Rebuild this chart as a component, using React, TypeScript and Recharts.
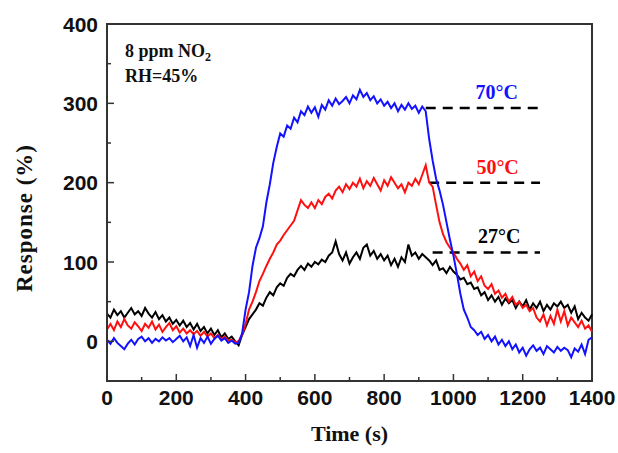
import { LineChart, Line, XAxis, YAxis, ReferenceLine, ReferenceArea } from "recharts";

// sampled every 10 s, 0..1400 s
const STEP = 10;

// response (%) at 70 °C
const blue70 = [
  2, -3, 4, -2, -6, -10, -3, 2, -4, 3,
  6, 0, 4, -2, 3, 0, 5, 1, 4, -1,
  3, 7, 0, 5, -6, 8, -8, 4, -2, 6,
  -3, 3, 7, 1, 4, -2, 1, -3, -2, 10,
  40, 62, 95, 118, 130, 145, 175, 198, 225, 245,
  262, 258, 272, 268, 282, 276, 290, 285, 296, 288,
  295, 283, 298, 292, 304, 297, 306, 299, 303, 308,
  300, 310, 305, 317, 308, 313, 304, 309, 300, 305,
  297, 302, 294, 300, 290, 298, 292, 300, 293, 297,
  288, 296, 290, 255, 228, 205, 190, 172, 150, 128,
  108, 85, 60, 40, 30, 18, 14, 8, 12, 3,
  8, 0, 6, -4, 2, -6, 0, -10, -4, -14,
  -8, -18, -10, -5, -12, -8, -16, -6, -10, -14,
  -7, -12, -8, -11, -20, -9, -13, -4, -16, 2,
  5,
];

// response (%) at 50 °C
const red50 = [
  15, 22, 14, 25, 18, 28, 20, 16, 24, 19,
  13, 22, 17, 25, 15, 21, 12, 18, 23, 14,
  19, 11, 16, 10, 14, 9, 13, 7, 12, 6,
  10, 4, 8, 3, 6, 1, 2, -1, 0, 8,
  22, 40, 50, 62, 76, 85, 95, 104, 112, 122,
  127, 134, 140, 146, 152, 165, 178, 172, 168, 175,
  168, 178, 173, 182, 186, 180, 190, 195, 188, 198,
  192, 200, 195, 205, 193, 202, 196, 206, 198, 190,
  203, 196, 207, 200, 193, 198, 188, 200, 196, 205,
  198, 210, 222, 200, 195, 172, 150, 135, 125, 118,
  112, 104, 98, 90, 96, 82, 88, 76, 82, 70,
  66, 72, 60, 64, 55, 60, 50, 56, 46, 50,
  42, 46, 38, 42, 30, 25, 34, 20, 32, 22,
  40, 25, 38, 20, 30, 24, 18, 26, 16, 20,
  12,
];

// response (%) at 27 °C
const black27 = [
  35, 30, 40, 33, 38, 30, 36, 42, 34, 38,
  32, 42, 35, 30, 37, 28, 33, 25, 30, 22,
  27, 20, 26, 18, 23, 15, 22, 13, 18, 10,
  16, 8, 14, 5, 10, 3, 6, 0, -5, 8,
  18, 28, 34, 40, 48, 45, 55, 62, 58, 68,
  73, 70, 80, 85, 82, 90, 95, 90, 98, 94,
  100, 97, 103, 100, 108, 112, 126, 110, 102, 112,
  98, 106, 112, 104, 118, 122, 108, 114, 104, 110,
  102, 108, 96, 104, 94, 106, 100, 122, 108, 112,
  104, 110, 106, 102, 96, 102, 90, 92, 86, 94,
  88, 84, 78, 80, 72, 74, 66, 68, 58, 62,
  52, 58, 50, 56, 46, 54, 48, 52, 42, 50,
  44, 52, 40, 48, 42, 50, 38, 46, 40, 48,
  44, 50, 42, 46, 36, 44, 28, 36, 30, 26,
  34,
];

const xTicks = [0, 100, 200, 300, 400, 500, 600, 700, 800, 900, 1000, 1100, 1200, 1300, 1400];
const yTicks = [0, 50, 100, 150, 200, 250, 300, 350, 400];

// steady-state levels marked with dashed lines
const levelLabels = ["70°C", "50°C", "27°C"];
const levelValues = [294, 200, 112];
const levelStarts = [920, 930, 940];
const levelEnds = [1255, 1250, 1250];
const colors = ["#1212ff", "#ff1010", "#000000"];

const data = blue70.map((v, i) => ({
  time: i * STEP,
  blue: v,
  red: red50[i],
  black: black27[i],
}));

const AXIS = "#333";
const tickFont = { fontFamily: "'Liberation Sans', Arial, sans-serif", fontWeight: 700, fontSize: 21 };
const serif = "'Liberation Serif', 'Times New Roman', serif";

function XTick({ x, y, payload }: any) {
  const major = payload.value % 200 === 0;
  return (
    <g>
      <line x1={x} x2={x} y1={y} y2={y - (major ? 7 : 4)} stroke={AXIS} strokeWidth={1.5} />
      {major && (
        <text x={x} y={y + 24} textAnchor="middle" fill="#111" style={tickFont}>
          {payload.value}
        </text>
      )}
    </g>
  );
}

function YTick({ x, y, payload }: any) {
  const major = payload.value % 100 === 0;
  return (
    <g>
      <line x1={x} x2={x + (major ? 7 : 4)} y1={y} y2={y} stroke={AXIS} strokeWidth={1.5} />
      {major && (
        <text x={x - 9} y={y} dy="0.36em" textAnchor="end" fill="#111" style={tickFont}>
          {payload.value}
        </text>
      )}
    </g>
  );
}

export default function App() {
  return (
    <div style={{ position: "relative", width: 618, height: 453, background: "#fff" }}>
      <style>{`body{margin:0}`}</style>
      <LineChart
        width={618}
        height={453}
        data={data}
        margin={{ top: 24, right: 26, bottom: 0, left: 0 }}
      >
        <ReferenceArea
          x1={0}
          x2={1400}
          y1={-50}
          y2={400}
          fill="none"
          stroke={AXIS}
          strokeWidth={2}
        />
        <XAxis
          dataKey="time"
          type="number"
          domain={[0, 1400]}
          ticks={xTicks}
          interval={0}
          height={72}
          tickSize={0}
          tickMargin={0}
          tickLine={false}
          axisLine={{ stroke: AXIS, strokeWidth: 2 }}
          tick={<XTick />}
          label={({ viewBox }: any) => (
            <text
              x={viewBox.x + viewBox.width / 2}
              y={viewBox.y + 60}
              textAnchor="middle"
              fill="#111"
              style={{ fontFamily: serif, fontWeight: 700, fontSize: 22 }}
            >
              Time (s)
            </text>
          )}
        />
        <YAxis
          type="number"
          domain={[-50, 400]}
          ticks={yTicks}
          interval={0}
          width={107}
          tickSize={0}
          tickMargin={0}
          tickLine={false}
          axisLine={{ stroke: AXIS, strokeWidth: 2 }}
          tick={<YTick />}
          label={() => (
            <text
              x={32}
              y={218}
              transform="rotate(-90, 32, 218)"
              textAnchor="middle"
              fill="#111"
              style={{ fontFamily: serif, fontWeight: 700, fontSize: 23, letterSpacing: 1 }}
            >
              Response (%)
            </text>
          )}
        />
        {levelValues.map((level, i) => (
          <ReferenceLine
            key={levelLabels[i]}
            segment={[
              { x: levelStarts[i], y: level },
              { x: levelEnds[i], y: level },
            ]}
            stroke="#000"
            strokeWidth={2.5}
            strokeDasharray="10 7"
            label={({ viewBox }: any) => (
              <text
                x={viewBox.x + viewBox.width / 2 + 13}
                y={viewBox.y - 9}
                textAnchor="middle"
                fill={colors[i]}
                style={{ fontFamily: serif, fontWeight: 700, fontSize: 20 }}
              >
                {levelLabels[i]}
              </text>
            )}
          />
        ))}
        <Line dataKey="black" stroke={colors[2]} strokeWidth={2} dot={false} isAnimationActive={false} />
        <Line dataKey="red" stroke={colors[1]} strokeWidth={2} dot={false} isAnimationActive={false} />
        <Line dataKey="blue" stroke={colors[0]} strokeWidth={2} dot={false} isAnimationActive={false} />
      </LineChart>
      <svg
        width={618}
        height={453}
        style={{ position: "absolute", left: 0, top: 0, pointerEvents: "none" }}
      >
        <text x={125} y={57} fill="#111" style={{ fontFamily: serif, fontWeight: 700, fontSize: 18 }}>
          8 ppm NO<tspan dy={4} fontSize={12}>2</tspan>
        </text>
        <text x={125} y={82} fill="#111" style={{ fontFamily: serif, fontWeight: 700, fontSize: 18 }}>
          RH=45%
        </text>
      </svg>
    </div>
  );
}
